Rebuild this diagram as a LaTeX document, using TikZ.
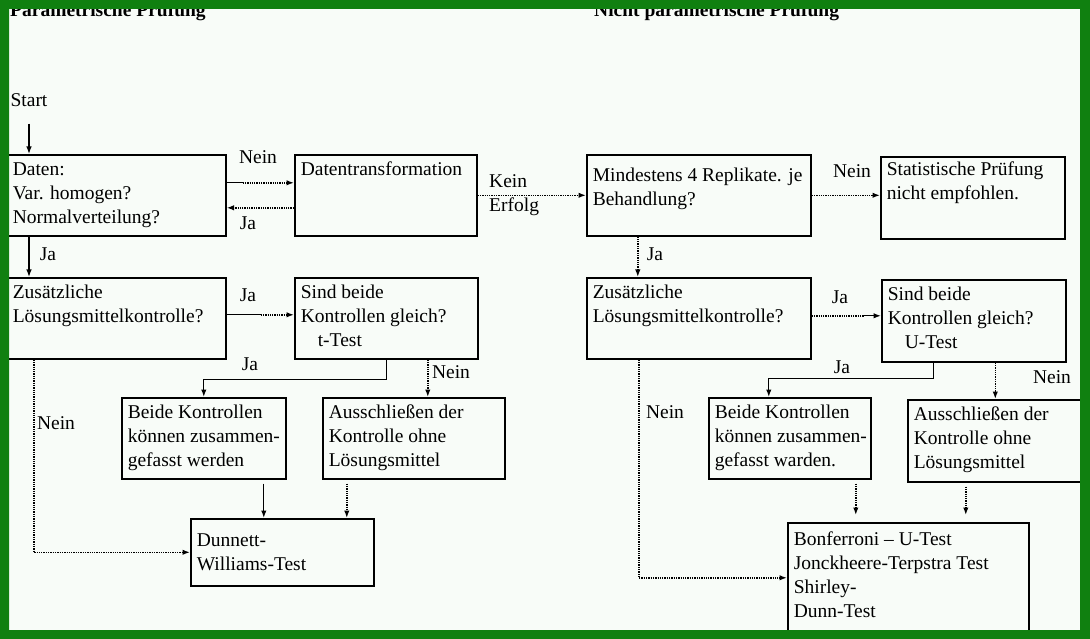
\documentclass[tikz,border=0pt]{standalone}
\usepackage{fontspec}
\setmainfont{Liberation Serif}
\usepackage{tikz}
\usetikzlibrary{arrows.meta, positioning}
\definecolor{framegreen}{RGB}{16,128,16}
\definecolor{paper}{RGB}{248,252,248}
\newcommand{\boxtxt}[4][0pt]{\parbox[t][#2][t]{#3}{\raggedright\vspace*{#1}\strut #4}}

\begin{document}
\begin{tikzpicture}[
      % GLOBAL CFG
      x=1pt, y=-1pt,
      font=\fontsize{19.5pt}{24pt}\selectfont,
      >={Latex[length=7.5pt,width=5.5pt]},
      % Styles
      testbox/.style={% For questions and results
        rectangle,
        draw,
        line width=1.6pt,
        anchor=north west,
        inner xsep=6pt,
        inner ysep=3.5pt
      },
      answer/.style={% For Ja / Nein
        inner sep=0pt
      },
      heading/.style={
        font=\fontsize{19.5pt}{24pt}\selectfont\bfseries,
        anchor=base west,
        inner sep=0pt
      },
      arrowsolid/.style={
        line width=1.3pt
      },
      arrowdotted/.style={
        line width=1.5pt,
        dash pattern=on 1.3pt off 1pt
      }
      ]
      \useasboundingbox (0,0) rectangle (1090,639);
      \fill[paper] (0,0) rectangle (1090,639);

      % Headings
      \node [heading] (parhead) at (10,16.5) {Parametrische Prüfung};
      \node [heading] (nonparhead) at (594,16.5) {Nicht parametrische Prüfung};

      % Parametric side:
      \node [answer] (start) at (29,100) {Start};
      \node [testbox] (daten) at (6,154) {\boxtxt{74pt}{207pt}{Daten:\\Var. homogen?\\Normalverteilung?}};
      \node [testbox] (trans) at (294,154) {\boxtxt{74pt}{170pt}{Datentransformation}};
      \draw [arrowsolid, ->, shorten <=17pt] (start) -- (start |- daten.north);

      \draw [arrowsolid] ([yshift=12.5pt]daten.east) -- ++(16,0) coordinate (nein1mid);
      \draw [arrowdotted, ->] (nein1mid) -- (nein1mid -| trans.west);
      \draw [arrowdotted, ->] ([yshift=-12.5pt]trans.west) -- ([yshift=-12.5pt]daten.east);
      \node [answer] (nein1) at (258,157) {Nein};
      \node [answer] (ja1) at (248,223) {Ja};

      \node [testbox] (zus1) at (6,277) {\boxtxt{74pt}{207pt}{Zusätzliche\\Lösungsmittelkontrolle?}};
      \node [testbox] (gleich1) at (294,277) {\boxtxt{74pt}{171pt}{Sind beide\\Kontrollen gleich?\\\hspace*{17pt}t-Test}};
      \draw [arrowsolid, ->] (start |- daten.south) -- (start |- zus1.north);
      \node [answer] (ja2) at (48,254) {Ja};

      \draw [arrowsolid] ([yshift=3.5pt]zus1.east) -- ++(34,0) coordinate (ja3mid);
      \draw [arrowdotted, ->] (ja3mid) -- (ja3mid -| gleich1.west);
      \node [answer] (ja3) at (248,295) {Ja};

      \node [testbox] (beide1) at (121,397) {\boxtxt{74pt}{152pt}{Beide Kontrollen\\\mbox{können zusammen-}\\gefasst werden}};
      \node [testbox] (ausschl1) at (322,397) {\boxtxt{74pt}{170pt}{Ausschließen der\\Kontrolle ohne\\Lösungsmittel}};
      \node [testbox] (dunn) at (190,518) {\boxtxt[7pt]{60pt}{171pt}{Dunnett-\\Williams-Test}};

      \draw [arrowsolid, ->] (gleich1.south) -- ++(0,20) -| (beide1.north);
      \node [answer] (ja6) at (250,364) {Ja};
      \coordinate (fj) at ([xshift=14pt]ausschl1.north);
      \draw [arrowdotted, ->] (fj |- gleich1.south) -- (fj);
      \node [answer] (nein3) at (451,372) {Nein};

      \coordinate (ik) at ([xshift=60pt]beide1.south);
      \draw [arrowsolid, ->, shorten <=4pt] (ik) -- (ik |- dunn.north);
      \coordinate (jk) at ([xshift=-67pt]ausschl1.south);
      \draw [arrowdotted, ->, shorten <=4pt] (jk) -- (jk |- dunn.north);
      \coordinate (ek) at ([xshift=-82.5pt]zus1.south);
      \draw [arrowdotted, ->] (ek) |- (dunn.west);
      \node [answer] (nein4) at (56,423) {Nein};

      % Non parametric side:
      \node [testbox] (mind) at (586,154) {\boxtxt[6pt]{74pt}{212pt}{Mindestens 4 Replikate. je\\Behandlung?}};
      \node [testbox] (stat) at (880,156) {\boxtxt[-2pt]{75pt}{172pt}{Statistische Prüfung\\nicht empfohlen.}};
      \draw [arrowdotted, ->] (trans.east) -- (mind.west);
      \node [answer, align=left, anchor=west] (keinerfolg) at (489,195) {Kein\\Erfolg};
      \draw [arrowdotted, ->] (mind.east) -- (mind.east -| stat.west);
      \node [answer] (nein2) at (852,171) {Nein};

      \node [testbox] (zus2) at (586,277) {\boxtxt{74pt}{212pt}{Zusätzliche\\Lösungsmittelkontrolle?}};
      \node [testbox] (gleich2) at (881,279) {\boxtxt{75pt}{172pt}{Sind beide\\Kontrollen gleich?\\\hspace*{17pt}U-Test}};
      \coordinate (cg) at ([xshift=-61pt]mind.south);
      \draw [arrowdotted, ->] (cg) -- (cg |- zus2.north);
      \node [answer] (ja4) at (655,254) {Ja};

      \draw [arrowdotted] ([yshift=2.5pt]zus2.east) -- ++(52,0) coordinate (ja5mid);
      \draw [arrowsolid, ->] (ja5mid) -- (ja5mid -| gleich2.west);
      \node [answer] (ja5) at (840,297) {Ja};

      \node [testbox] (beide2) at (708,397) {\boxtxt{74pt}{150pt}{Beide Kontrollen\\\mbox{können zusammen-}\\gefasst warden.}};
      \node [testbox] (ausschl2) at (907,399) {\boxtxt{75pt}{163pt}{Ausschließen der\\Kontrolle ohne\\Lösungsmittel}};
      \node [testbox] (bonf) at (787,522) {\boxtxt[2pt]{121pt}{229pt}{Bonferroni – U-Test\\Jonckheere-Terpstra Test\\Shirley-\\Dunn-Test}};

      \coordinate (hl) at ([xshift=-40pt]gleich2.south);
      \draw [arrowsolid, ->] (hl) -- ++(0,16) -| ([xshift=-21pt]beide2.north);
      \node [answer] (ja7) at (842,367) {Ja};
      \draw [arrowdotted, ->] (ausschl2.north |- gleich2.south) -- (ausschl2.north);
      \node [answer] (nein5) at (1052,377) {Nein};

      \coordinate (ln) at ([xshift=66pt]beide2.south);
      \draw [arrowdotted, ->, shorten <=4pt, shorten >=7pt] (ln) -- (ln |- bonf.north);
      \coordinate (mn) at ([xshift=-29.5pt]ausschl2.south);
      \draw [arrowdotted, ->, shorten <=4pt, shorten >=7pt] (mn) -- (mn |- bonf.north);
      \coordinate (gn) at ([xshift=-60pt]zus2.south);
      \coordinate (gnend) at ([yshift=9pt]bonf.west);
      \draw [arrowdotted, ->] (gn) |- (gnend);
      \node [answer] (nein6) at (665,412) {Nein};

      % Green frame
      \fill [framegreen, even odd rule] (0,0) rectangle (1090,639) (9,9) rectangle (1080,630);

    \end{tikzpicture}
\end{document}
